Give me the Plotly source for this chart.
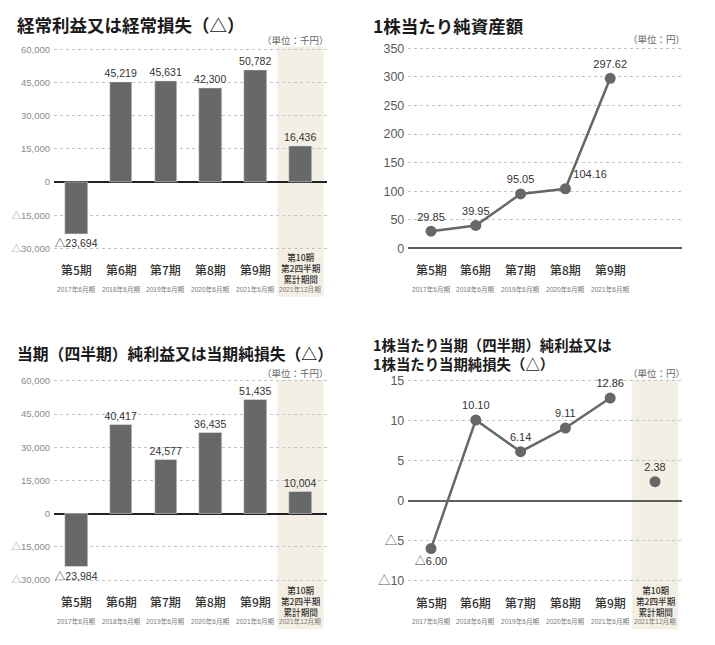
import plotly.graph_objects as go

W, H = 715, 645

# ---------------- data ----------------
periods = ["第5期", "第6期", "第7期", "第8期", "第9期"]
period_dates = ["2017年6月期", "2018年6月期", "2019年6月期", "2020年6月期", "2021年6月期"]
interim_label = "第10期<br>第2四半期<br>累計期間"
interim_date = "2021年12月期"

ordinary_profit = [-23694, 45219, 45631, 42300, 50782, 16436]   # 千円
net_income = [-23984, 40417, 24577, 36435, 51435, 10004]        # 千円
bps = [29.85, 39.95, 95.05, 104.16, 297.62]                     # 円
eps = [-6.00, 10.10, 6.14, 9.11, 12.86, 2.38]                   # 円

bar_ticks = [60000, 45000, 30000, 15000, 0, -15000, -30000]
bps_ticks = [0, 50, 100, 150, 200, 250, 300, 350]
eps_ticks = [15, 10, 5, 0, -5, -10]

titles = ["経常利益又は経常損失（△）", "1株当たり純資産額",
          "当期（四半期）純利益又は当期純損失（△）",
          "1株当たり当期（四半期）純利益又は<br>1株当たり当期純損失（△）"]
unit_thousand = "（単位：千円）"
unit_yen = "（単位：円）"

# ---------------- styling ----------------
CJK = "Noto Sans CJK JP"
SANS = "Liberation Sans, Arial, Noto Sans CJK JP, sans-serif"
BAR_COLOR = "#676969"
LINE_COLOR = "#676767"
BAND = "#f3efe4"
GRID = "#c4c4c4"


def px(x):
    return x / W


def py(y):
    return 1 - y / H


def neg_int(v):
    return ("△" if v < 0 else "") + f"{abs(v):,}"


def neg_num(v, fmt):
    return ("△" if v < 0 else "") + format(abs(v), fmt)


x_all = list(range(len(periods) + 1))

fig = go.Figure()

panels = {
    "A": dict(xd=(54, 327), yd=(43.76, 250.24), yr=[-31000, 61000], xr=[-0.498, 5.596]),
    "B": dict(xd=(408.3, 681.7), yd=(42.1, 250.6), yr=[-5, 355], xr=[-0.507, 5.596]),
    "C": dict(xd=(54, 327), yd=(380.06, 586.54), yr=[-31000, 61000], xr=[-0.498, 5.596]),
    "D": dict(xd=(408.3, 681.7), yd=(379.87, 587.13), yr=[-10.3, 15.3], xr=[-0.507, 5.596]),
}
axis_ids = {"A": "", "B": "2", "C": "3", "D": "4"}

# bar panels
for key, vals in (("A", ordinary_profit), ("C", net_income)):
    i = axis_ids[key]
    fig.add_trace(go.Bar(
        x=x_all, y=vals, width=0.506, marker_color=BAR_COLOR,
        text=[neg_int(v) for v in vals], textposition="outside",
        constraintext="none",
        textfont=dict(family=SANS, size=10.5, color="#333333"),
        cliponaxis=False, hoverinfo="skip",
        xaxis="x" + i, yaxis="y" + i, showlegend=False))

# BPS line
fig.add_trace(go.Scatter(
    x=x_all[:len(bps)], y=bps, mode="lines+markers+text",
    line=dict(color=LINE_COLOR, width=2.5),
    marker=dict(color=LINE_COLOR, size=11),
    text=[neg_num(v, ".2f") for v in bps],
    textposition=["top center", "top center", "top center", "top right", "top center"],
    textfont=dict(family=SANS, size=11, color="#333333"),
    cliponaxis=False, hoverinfo="skip", xaxis="x2", yaxis="y2", showlegend=False))

# EPS line (annual periods connected, interim point separate)
n = len(periods)
fig.add_trace(go.Scatter(
    x=x_all[:n], y=eps[:n], mode="lines+markers+text",
    line=dict(color=LINE_COLOR, width=2.5),
    marker=dict(color=LINE_COLOR, size=11),
    text=[neg_num(v, ".2f") for v in eps[:n]],
    textposition=["bottom center"] + ["top center"] * (n - 1),
    textfont=dict(family=SANS, size=11, color="#333333"),
    cliponaxis=False, hoverinfo="skip", xaxis="x4", yaxis="y4", showlegend=False))
fig.add_trace(go.Scatter(
    x=x_all[n:], y=eps[n:], mode="markers+text",
    marker=dict(color=LINE_COLOR, size=11),
    text=[neg_num(v, ".2f") for v in eps[n:]],
    textposition="top center",
    textfont=dict(family=SANS, size=11, color="#333333"),
    cliponaxis=False, hoverinfo="skip", xaxis="x4", yaxis="y4", showlegend=False))

layout = dict(width=W, height=H, margin=dict(l=0, r=0, t=0, b=0),
              paper_bgcolor="white", plot_bgcolor="rgba(0,0,0,0)",
              showlegend=False, bargap=0)

tick_sets = {"A": bar_ticks, "B": bps_ticks, "C": bar_ticks, "D": eps_ticks}
for key, p in panels.items():
    i = axis_ids[key]
    bar_panel = key in ("A", "C")
    ticks = tick_sets[key]
    layout["xaxis" + i] = dict(
        domain=[px(p["xd"][0]), px(p["xd"][1])], range=p["xr"],
        showgrid=False, zeroline=False, showticklabels=False, showline=False,
        anchor="y" + i, fixedrange=True)
    layout["yaxis" + i] = dict(
        domain=[py(p["yd"][1]), py(p["yd"][0])], range=p["yr"],
        tickvals=ticks,
        ticktext=[neg_int(v) for v in ticks],
        tickfont=dict(family=SANS,
                      size=9.5 if bar_panel else 12.5,
                      color="#8a8a8a" if bar_panel else "#5a5a5a"),
        showgrid=True, gridcolor=GRID, griddash="dot", gridwidth=1,
        zeroline=True, zerolinecolor="#222222" if bar_panel else "#5e5e5e",
        zerolinewidth=1.5 if bar_panel else 2.2,
        showline=False, ticks="", ticklabelstandoff=3,
        anchor="x" + i, fixedrange=True)

shapes = []
annotations = []

# highlight bands for the interim period
band_specs = [("A", 43, 297), ("C", 381, 634), ("D", 381, 634)]
for key, top, bottom in band_specs:
    i = axis_ids[key]
    shapes.append(dict(type="rect", xref="x" + i, yref="paper",
                       x0=len(periods) - 0.51, x1=len(periods) + 0.52,
                       y0=py(bottom), y1=py(top),
                       fillcolor=BAND, line=dict(width=0), layer="below"))


def add_text(text, xref, x, y, size, color, family=CJK, xanchor="center", weight=None):
    f = dict(family=family, size=size, color=color)
    if weight:
        f["weight"] = weight
    annotations.append(dict(text=text, xref=xref, yref="paper", x=x, y=py(y),
                            xanchor=xanchor, yanchor="middle", showarrow=False,
                            font=f, borderpad=0, align="left"))


# category labels
cat_rows = {"A": (269, 289.3, True, 267.5),
            "B": (269, 289.3, False, None),
            "C": (605.7, 626.7, True, 605),
            "D": (606.5, 626.7, True, 605)}
for key, (ycat, ydate, has_interim, yblock) in cat_rows.items():
    xr = "x" + axis_ids[key]
    for j, (name, date) in enumerate(zip(periods, period_dates)):
        add_text(name, xr, j, ycat, 12, "#333333", weight=500)
        add_text(date, xr, j, ydate, 6.6, "#7a7a7a", family=SANS)
    if has_interim:
        annotations.append(dict(text=interim_label, xref=xr, yref="paper", x=len(periods),
                                y=py(yblock), xanchor="center", yanchor="middle",
                                showarrow=False, align="center", borderpad=0,
                                font=dict(family=CJK, size=8.6, color="#333333", weight=500)))
        add_text(interim_date, xr, len(periods), ydate, 6.6, "#7a7a7a", family=SANS)

# titles
add_text(titles[0], "paper", px(16), 21, 17.5, "#1a1a1a", xanchor="left", weight="bold")
add_text(titles[1], "paper", px(372), 21.5, 17.5, "#1a1a1a", xanchor="left", weight="bold")
add_text(titles[2], "paper", px(16), 354, 15.8, "#1a1a1a", xanchor="left", weight="bold")
add_text(titles[3], "paper", px(372), 354.6, 14.4, "#1a1a1a", xanchor="left", weight="bold")

# units
add_text(unit_thousand, "paper", px(330), 36.7, 9.5, "#666666", xanchor="right")
add_text(unit_yen, "paper", px(686), 36, 9.5, "#666666", xanchor="right")
add_text(unit_thousand, "paper", px(330), 374, 9.5, "#666666", xanchor="right")
add_text(unit_yen, "paper", px(686), 374, 9.5, "#666666", xanchor="right")

layout["shapes"] = shapes
layout["annotations"] = annotations
fig.update_layout(**layout)

fig.write_html("out.html", config={"displayModeBar": False},
               post_script="document.body.style.margin='0';document.body.style.padding='0';")
